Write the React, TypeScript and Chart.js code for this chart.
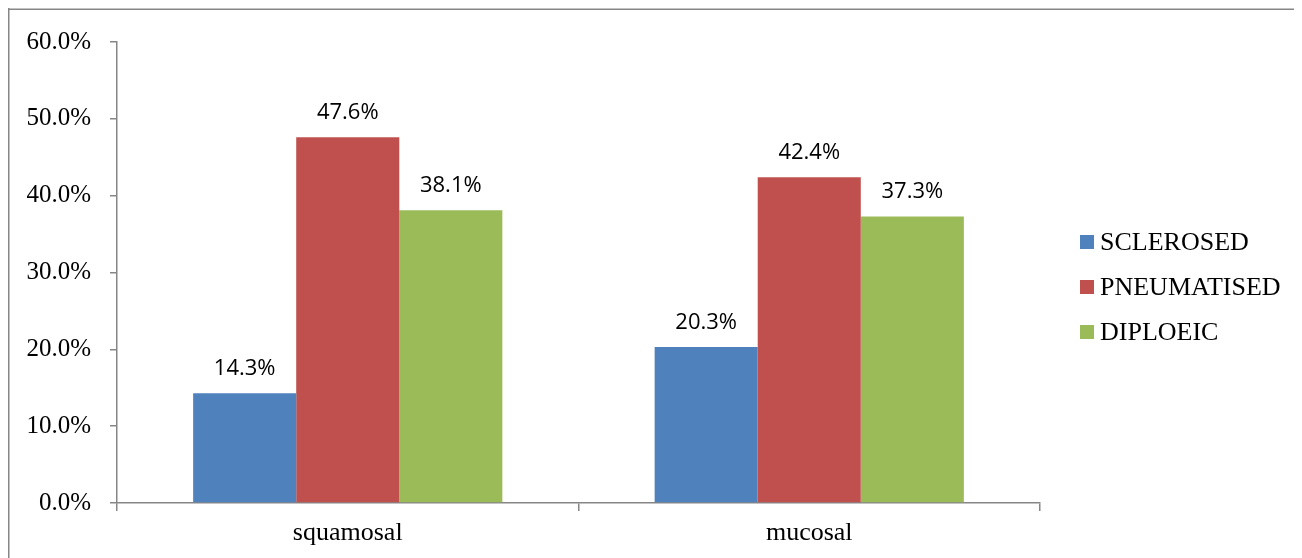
import React, { useEffect, useRef } from "react";
import { Chart, registerables } from "chart.js";

Chart.register(...registerables);

const categories = ["squamosal", "mucosal"];
const seriesNames = ["SCLEROSED", "PNEUMATISED", "DIPLOEIC"];
const sclerosed = [14.3, 20.3];
const pneumatised = [47.6, 42.4];
const diploeic = [38.1, 37.3];
const seriesColors = ["#4F81BD", "#C0504D", "#9BBB59"];
const yMin = 0;
const yMax = 60;
const yStep = 10;

const AXIS_COLOR = "#868686";
const SERIF = '"Liberation Serif", "Times New Roman", serif';

const framePlugin = {
  id: "frame",
  beforeDraw(chart: any) {
    const ctx = chart.ctx;
    ctx.save();
    ctx.fillStyle = "#ffffff";
    ctx.fillRect(0, 0, chart.width, chart.height);
    ctx.fillStyle = AXIS_COLOR;
    ctx.fillRect(0, 0.5, chart.width, 1.5);
    ctx.fillRect(0, 0, 1.5, chart.height);
    ctx.restore();
  },
};

const dataLabelPlugin = {
  id: "dataLabels",
  afterDatasetsDraw(chart: any) {
    const ctx = chart.ctx;
    ctx.save();
    ctx.font = '22px "Open Sans", "Noto Sans", sans-serif';
    ctx.fillStyle = "#000000";
    ctx.textAlign = "center";
    ctx.textBaseline = "alphabetic";
    chart.data.datasets.forEach((ds: any, i: number) => {
      const meta = chart.getDatasetMeta(i);
      meta.data.forEach((el: any, j: number) => {
        const v = ds.data[j] as number;
        ctx.fillText(v.toFixed(1) + "%", el.x, el.y - 18);
      });
    });
    ctx.restore();
  },
};

const legendPlugin = {
  id: "sideLegend",
  afterDraw(chart: any) {
    const ctx = chart.ctx;
    const area = chart.chartArea;
    const boxX = area.right + 40;
    const box = 14;
    const rowGap = 45;
    const centerY = chart.height / 2 + 4;
    ctx.save();
    ctx.font = `26px ${SERIF}`;
    ctx.textAlign = "left";
    ctx.textBaseline = "middle";
    chart.data.datasets.forEach((ds: any, i: number) => {
      const cy = centerY + (i - 1) * rowGap;
      ctx.fillStyle = ds.backgroundColor;
      ctx.fillRect(boxX, cy - box / 2, box, box);
      ctx.fillStyle = "#000000";
      ctx.fillText(ds.label, boxX + box + 6, cy + 1);
    });
    ctx.restore();
  },
};

export default function App() {
  const canvasRef = useRef<HTMLCanvasElement | null>(null);

  useEffect(() => {
    const canvas = canvasRef.current;
    if (!canvas) return;
    const seriesValues = [sclerosed, pneumatised, diploeic];
    const chart = new Chart(canvas, {
      type: "bar",
      data: {
        labels: categories,
        datasets: seriesNames.map((name, i) => ({
          label: name,
          data: seriesValues[i],
          backgroundColor: seriesColors[i],
          borderWidth: 0,
          categoryPercentage: 0.67,
          barPercentage: 1.0,
        })),
      },
      options: {
        animation: false,
        responsive: false,
        devicePixelRatio: 1,
        layout: { padding: { top: 30, right: 262, left: 0, bottom: 0 } },
        plugins: {
          legend: { display: false },
          tooltip: { enabled: false },
          title: { display: false },
        },
        scales: {
          x: {
            grid: {
              offset: true,
              drawOnChartArea: false,
              drawTicks: true,
              tickLength: 8,
              color: AXIS_COLOR,
              lineWidth: 1.5,
            },
            border: { display: true, color: AXIS_COLOR, width: 1.5 },
            ticks: {
              font: { family: SERIF, size: 26 },
              color: "#000000",
              padding: 7,
            },
            afterFit(scale: any) {
              scale.height = 55;
            },
          },
          y: {
            min: yMin,
            max: yMax,
            grid: {
              drawOnChartArea: false,
              drawTicks: true,
              tickLength: 7,
              color: AXIS_COLOR,
              lineWidth: 1.5,
            },
            border: { display: true, color: AXIS_COLOR, width: 1.5 },
            ticks: {
              stepSize: yStep,
              font: { family: SERIF, size: 25 },
              color: "#000000",
              padding: 19,
              callback: (v: any) => Number(v).toFixed(1) + "%",
            },
            afterFit(scale: any) {
              scale.width = 109;
            },
          },
        },
      },
      plugins: [framePlugin, dataLabelPlugin, legendPlugin],
    });
    return () => chart.destroy();
  }, []);

  return (
    <div style={{ width: 1294, height: 550 }}>
      <canvas ref={canvasRef} width={1294} height={550} style={{ display: "block" }} />
    </div>
  );
}
